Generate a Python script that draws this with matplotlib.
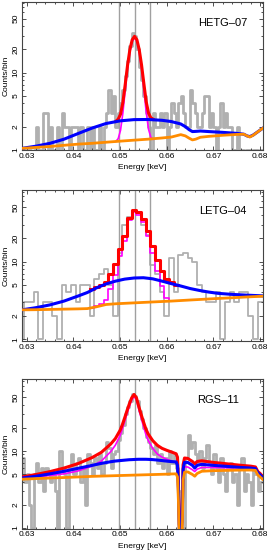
import matplotlib.pyplot as plt
import numpy as np
from matplotlib.ticker import FixedLocator, LogLocator, NullFormatter, MultipleLocator

plt.rcParams['font.family'] = ['Liberation Sans', 'DejaVu Sans']
plt.rcParams['font.size'] = 6

GRAY = '#b0b0b0'
RED = '#ff0000'
MAG = '#ff00ff'
BLUE = '#0000ff'
ORANGE = '#ff8c00'

# line marks (keV)
vlines = [0.6498, 0.6531, 0.6564]

# ---------------- HETG-07 ----------------
hetg_edges = np.linspace(0.629, 0.6805, 104)
hetg_counts = [1, 0, 1, 1, 0, 1, 2, 1, 0, 3, 3, 1, 2, 1, 1, 2, 0, 3, 2, 2, 1, 2, 2, 2,
               1, 2, 0, 1, 2, 1, 2, 1, 0, 2, 1, 2, 3, 6, 3, 5, 2, 3,
               4, 6, 9, 14, 22, 33, 30, 20, 12, 8, 5, 3, 2, 1,
               3, 2, 2, 3, 2, 3, 1, 2, 4, 3, 2, 4, 5, 3, 2, 2, 6, 4, 3, 2, 2, 3,
               5, 5, 2, 3, 2, 1, 2, 4, 2, 3, 2, 2, 1, 1, 2, 1, 1, 0, 1, 1, 0, 1, 1, 0, 1]
hetg_e = [0.629, 0.632, 0.635, 0.638, 0.641, 0.644, 0.647, 0.650, 0.653, 0.656, 0.659,
          0.661, 0.663, 0.6640, 0.6648, 0.6655, 0.6662, 0.6672, 0.669, 0.672, 0.675,
          0.6765, 0.6772, 0.6778, 0.6785, 0.6795, 0.6805]
hetg_blue = [1.05, 1.12, 1.22, 1.38, 1.63, 1.92, 2.2, 2.38, 2.47, 2.48, 2.42,
             2.33, 2.17, 2.0, 1.83, 1.73, 1.74, 1.76, 1.73, 1.69, 1.64,
             1.6, 1.52, 1.49, 1.56, 1.72, 1.9]
hetg_orange = [1.05, 1.08, 1.11, 1.15, 1.19, 1.22, 1.26, 1.3, 1.34, 1.38, 1.43,
               1.47, 1.58, 1.52, 1.42, 1.35, 1.38, 1.46, 1.5, 1.55, 1.59,
               1.6, 1.52, 1.47, 1.55, 1.72, 1.9]
hetg_line_e = [0.6491, 0.6496, 0.6501, 0.6506, 0.6511, 0.6516, 0.6521, 0.6526, 0.6531,
               0.6536, 0.6541, 0.6546, 0.6551, 0.6556, 0.6561, 0.6566, 0.6571]
hetg_red = [2.35, 2.5, 2.9, 4.1, 7.0, 12.4, 19.8, 26.6, 29.5,
            26.7, 19.9, 12.6, 7.2, 4.2, 3.0, 2.6, 2.5]
hetg_mag = [1.29, 1.4, 1.8, 3.0, 5.9, 11.3, 18.6, 25.4, 28.3,
            25.5, 18.7, 11.4, 6.0, 3.1, 1.85, 1.45, 1.38]

# ---------------- LETG-04 ----------------
letg_edges = np.linspace(0.6285, 0.6805, 53)
letg_counts = [1, 3, 3, 4, 1, 3, 3, 2, 1, 5, 4, 5, 3, 5, 5, 2, 6, 7, 8, 5,
               2, 13, 30, 38, 45, 42, 30, 22, 9, 7, 4, 2, 11, 4, 12, 13, 11, 10, 5, 4,
               3, 3, 4, 1, 3, 4, 3, 4, 4, 2, 1, 3]
letg_e = [0.629, 0.632, 0.635, 0.638, 0.641, 0.643, 0.645, 0.647, 0.649, 0.651, 0.653,
          0.655, 0.657, 0.659, 0.661, 0.663, 0.665, 0.667, 0.669, 0.671, 0.674, 0.677, 0.6805]
letg_blue = [2.39, 2.55, 2.77, 3.1, 3.6, 4.0, 4.6, 5.15, 5.6, 5.95, 6.15,
             6.2, 6.0, 5.6, 5.2, 4.85, 4.5, 4.25, 4.05, 3.9, 3.78, 3.7, 3.62]
letg_orange = [2.39, 2.4, 2.42, 2.44, 2.46, 2.48, 2.62, 2.8, 2.86, 2.9, 2.94,
               2.98, 3.02, 3.06, 3.1, 3.15, 3.2, 3.25, 3.3, 3.35, 3.42, 3.5, 3.58]
letg_line_edges = np.linspace(0.6435, 0.6625, 20)
letg_red = [4.4, 4.75, 5.0, 5.4, 6.9, 9.3, 14.5, 21.5, 37, 47,
            44, 35, 25, 16, 10.5, 7.5, 6.0, 5.4, 5.0]
letg_mag = [2.55, 2.65, 2.85, 3.2, 4.5, 6.7, 11.8, 18.5, 34, 43.5,
            40.5, 32, 21.5, 13, 7.5, 4.8, 3.4, 3.15, 3.12]

# ---------------- RGS-11 ----------------
rgs_edges = np.linspace(0.629, 0.6805, 104)
rgs_counts = [8, 4, 5, 2, 1, 5, 7, 4, 6, 3, 6, 5, 4, 5, 3, 1, 10, 6, 5, 1,
              6, 9, 5, 7, 8, 4, 6, 2, 9, 7, 5, 8, 6, 9, 5, 7, 13, 11, 6, 9,
              10, 14, 17, 22, 30, 37, 45, 55, 52, 44, 33, 26, 20, 15, 13, 11, 9, 12, 7, 9,
              6, 8, 5, 10, 7, 9, 6, 3, 0, 1, 8, 16, 11, 13, 9, 7, 10, 6, 8, 12,
              7, 5, 9, 6, 4, 8, 5, 3, 6, 7, 4, 5, 2, 6, 8, 3, 5, 4, 2, 6, 5, 3, 4]
rgs_e = [0.629, 0.632, 0.635, 0.638, 0.641, 0.644, 0.646, 0.648, 0.649, 0.650, 0.6505,
         0.651, 0.6515, 0.652, 0.6525, 0.653, 0.6535, 0.654, 0.6545, 0.655, 0.6555,
         0.656, 0.657, 0.658, 0.659, 0.660, 0.661, 0.662, 0.6623, 0.6625, 0.6627,
         0.6630, 0.6633, 0.6635, 0.6638, 0.6645, 0.6655, 0.666, 0.6665, 0.6675, 0.670,
         0.673, 0.676, 0.678, 0.679, 0.6795, 0.680, 0.6805]
rgs_blue = [4.45, 4.7, 5.05, 5.45, 5.95, 6.5, 6.9, 7.25, 7.4, 7.5, 7.55,
            7.6, 7.65, 7.7, 7.72, 7.75, 7.78, 7.8, 7.8, 7.8, 7.8,
            7.78, 7.72, 7.62, 7.5, 7.38, 7.28, 7.2, 6.5, 3.2, 0.9,
            0.8, 1.2, 5.8, 7.1, 7.1, 6.5, 6.0, 6.5, 6.7, 6.5,
            6.3, 6.1, 6.0, 5.9, 5.2, 4.9, 4.55]
rgs_orange = [4.3, 4.38, 4.45, 4.52, 4.6, 4.68, 4.72, 4.76, 4.78, 4.8, 4.81,
              4.82, 4.83, 4.84, 4.85, 4.86, 4.87, 4.88, 4.89, 4.9, 4.91,
              4.92, 4.94, 4.96, 4.98, 5.0, 5.03, 5.05, 4.6, 2.2, 0.6,
              0.5, 0.7, 4.2, 5.3, 5.35, 4.95, 4.7, 5.1, 5.45, 5.55,
              5.6, 5.65, 5.65, 5.6, 4.9, 4.6, 4.3]
rgs_red = [4.6, 4.95, 5.4, 6.0, 6.85, 8.2, 9.6, 12.3, 14.5, 18.5, 22,
           27, 33.5, 41, 49, 54, 49, 38, 30, 24, 19.5,
           16.7, 13.6, 11.8, 10.8, 10.2, 9.7, 9.2, 8.3, 3.8, 1.1,
           0.95, 1.4, 6.6, 8.1, 8.0, 7.3, 6.8, 7.3, 7.45, 7.1,
           6.8, 6.5, 6.35, 6.2, 5.4, 5.1, 4.7]
rgs_mag = [4.45, 4.62, 4.8, 5.05, 5.5, 6.35, 7.4, 9.8, 11.9, 15.8, 19.3,
           24.2, 30.7, 38, 46, 51, 46, 35, 27, 21, 16.6,
           13.8, 10.8, 9.1, 8.3, 7.8, 7.45, 7.1, 6.4, 2.8, 0.75,
           0.6, 0.9, 4.9, 6.2, 6.2, 5.7, 5.4, 5.8, 6.1, 6.1,
           6.05, 6.0, 5.95, 5.85, 5.05, 4.75, 4.45]


def histo(ax, edges, vals, lw):
    ax.step(edges, list(vals) + [vals[-1]], where='post', color=GRAY, lw=lw, zorder=1)


def setup(ax, ylim, name, nx):
    ax.set_yscale('log')
    ax.set_xlim(0.629, 0.6806)
    ax.set_ylim(*ylim)
    for v in vlines:
        ax.axvline(v, color='#a0a0a0', lw=1.0, zorder=2)
    ax.xaxis.set_major_locator(MultipleLocator(0.01))
    ax.xaxis.set_minor_locator(MultipleLocator(0.002))
    ax.yaxis.set_major_locator(FixedLocator([1, 2, 5, 10, 20, 50]))
    ax.yaxis.set_major_formatter(plt.FixedFormatter(['1', '2', '5', '10', '20', '50']))
    ax.yaxis.set_minor_locator(LogLocator(subs=np.arange(1, 10)))
    ax.yaxis.set_minor_formatter(NullFormatter())
    ax.tick_params(which='both', direction='in', top=True, right=True, width=0.6,
                   labelsize=6, pad=2, color='#333333')
    ax.tick_params(which='major', length=3)
    ax.tick_params(which='minor', length=1.5)
    ax.tick_params(axis='y', labelrotation=90)
    plt.setp(ax.get_yticklabels(), va='center')
    for s in ax.spines.values():
        s.set_linewidth(0.8)
        s.set_color('#444444')
    ax.set_xlabel('Energy [keV]', fontsize=6, labelpad=3)
    ax.set_ylabel('Counts/bin', fontsize=6, labelpad=2)
    ax.text(nx, 0.86, name, transform=ax.transAxes, fontsize=8, ha='center', va='center')


fig = plt.figure(figsize=(2.76, 5.58), dpi=100)

ax1 = fig.add_axes([0.0797, 0.7303, 0.873, 0.2661])
histo(ax1, hetg_edges, hetg_counts, 2.0)
ax1.plot(hetg_line_e, hetg_mag, color=MAG, lw=1.2, zorder=3)
ax1.plot(hetg_line_e, hetg_red, color=RED, lw=2.2, zorder=4)
ax1.plot(hetg_e, hetg_blue, color=BLUE, lw=2.2, zorder=5)
ax1.plot(hetg_e, hetg_orange, color=ORANGE, lw=2.0, zorder=6)
setup(ax1, (0.985, 82), 'HETG\u201307', 0.834)

ax2 = fig.add_axes([0.0797, 0.3884, 0.873, 0.2712])
histo(ax2, letg_edges, letg_counts, 1.3)
ax2.step(letg_line_edges, letg_mag + [letg_mag[-1]], where='post', color=MAG, lw=1.2, zorder=3)
ax2.step(letg_line_edges, letg_red + [letg_red[-1]], where='post', color=RED, lw=2.2, zorder=4)
ax2.plot(letg_e, letg_blue, color=BLUE, lw=2.2, zorder=5)
ax2.plot(letg_e, letg_orange, color=ORANGE, lw=2.0, zorder=6)
setup(ax2, (0.94, 84), 'LETG\u201304', 0.834)

ax3 = fig.add_axes([0.0797, 0.0525, 0.873, 0.2677])
histo(ax3, rgs_edges, rgs_counts, 2.0)
ax3.plot(rgs_e, rgs_mag, color=MAG, lw=1.2, zorder=3)
ax3.plot(rgs_e, rgs_red, color=RED, lw=2.2, zorder=4)
ax3.plot(rgs_e, rgs_blue, color=BLUE, lw=2.2, zorder=5)
ax3.plot(rgs_e, rgs_orange, color=ORANGE, lw=2.0, zorder=6)
setup(ax3, (0.98, 85), 'RGS\u201311', 0.813)

fig.savefig('out.png', dpi=100)
